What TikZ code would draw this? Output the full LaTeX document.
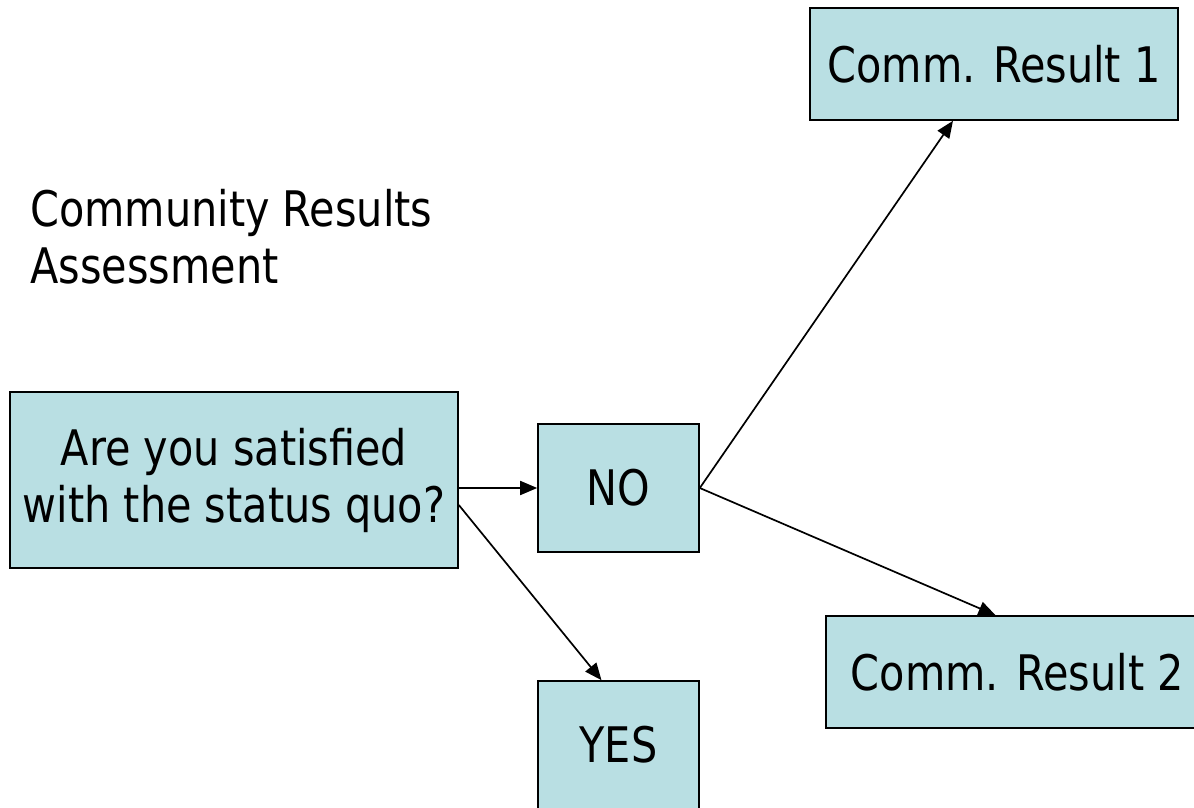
\documentclass[tikz,border=0pt]{standalone}
\usepackage{fontspec}
\setmainfont{DejaVu Sans}[FakeStretch=0.845]
\usetikzlibrary{arrows.meta}
\definecolor{boxfill}{RGB}{185,223,227}
\begin{document}
\begin{tikzpicture}[x=1pt,y=1pt,
  every node/.style={font=\fontsize{49}{57}\selectfont},
  box/.style={draw=black,line width=1.6pt,fill=boxfill,inner sep=0pt,align=center},
  conn/.style={line width=1.7pt,-{Triangle[length=17pt,width=14pt]}}]
\useasboundingbox (0,0) rectangle (1194,807);
\node[box,minimum width=368pt,minimum height=112pt] (cr1) at (994,743) {Comm. Result 1};
\node[box,minimum width=161pt,minimum height=128pt] (no) at (618.5,319) {\raisebox{-4pt}{NO}};
\node[box,minimum width=161pt,minimum height=128pt] (yes) at (618.5,62) {YES};
\node[box,minimum width=383pt,minimum height=112pt] (cr2) at (1017.5,135) {Comm. Result 2};
\node[box,minimum width=448pt,minimum height=176pt] (q) at (234,327) {Are you satisfied\\with the status quo?};
\node[align=left,anchor=north west,inner sep=0pt] (title) at (30,618) {Community Results\\Assessment};
\draw[conn] (q.east |- no.west) -- (no.west);
\draw[conn] ([yshift=-25pt]q.east) -- ([xshift=-17pt]yes.north);
\draw[conn] (no.east) -- ([xshift=-41pt]cr1.south);
\draw[conn] (no.east) -- ([xshift=-22pt]cr2.north);
\end{tikzpicture}
\end{document}
